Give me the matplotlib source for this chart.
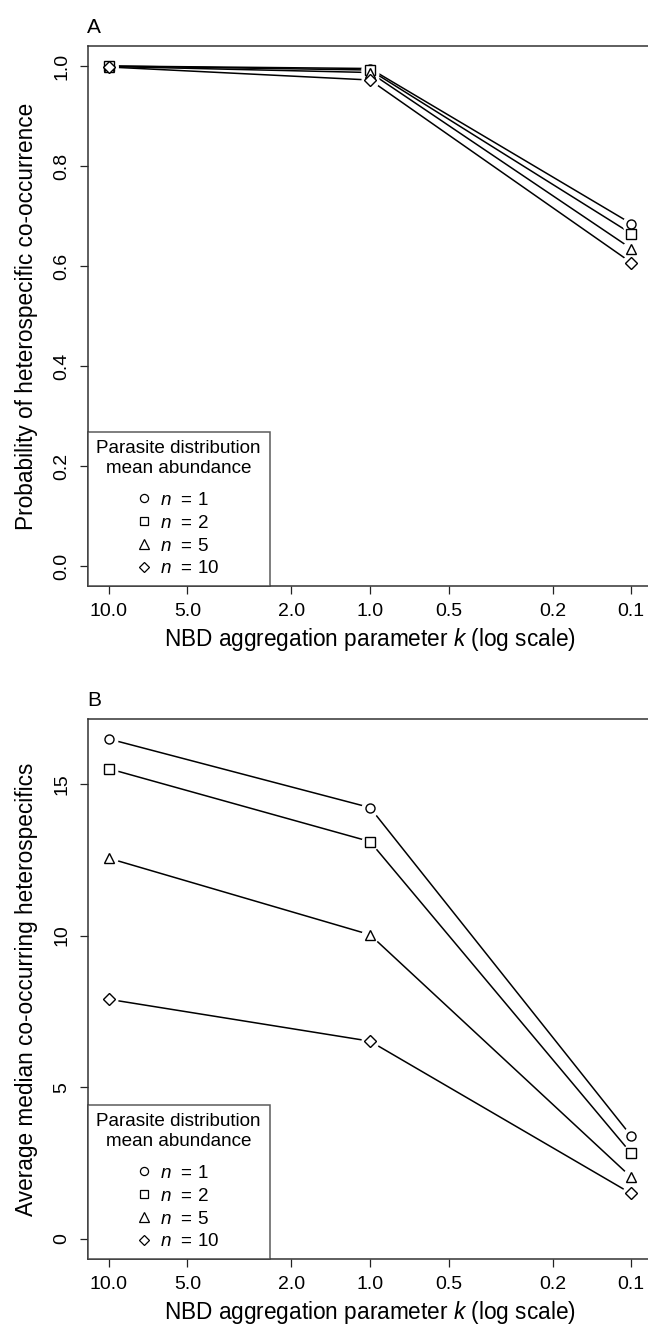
import matplotlib
matplotlib.use("Agg")
import matplotlib.pyplot as plt
from matplotlib.ticker import FixedLocator, FixedFormatter, NullLocator

plt.rcParams['font.family'] = ['Liberation Sans', 'DejaVu Sans']
plt.rcParams['mathtext.fontset'] = 'custom'
plt.rcParams['mathtext.it'] = 'Liberation Sans:italic'
plt.rcParams['mathtext.rm'] = 'Liberation Sans'

# ---- data ----
k_values = [10.0, 1.0, 0.1]
n_labels = ["1", "2", "5", "10"]
markers = ["o", "s", "^", "D"]

probA_n1 = [1.000, 0.995, 0.685]
probA_n2 = [1.000, 0.992, 0.665]
probA_n5 = [0.999, 0.987, 0.635]
probA_n10 = [0.998, 0.972, 0.607]

medB_n1 = [16.48, 14.22, 3.40]
medB_n2 = [15.50, 13.10, 2.83]
medB_n5 = [12.55, 10.03, 2.04]
medB_n10 = [7.90, 6.52, 1.50]

xtick_vals = [10.0, 5.0, 2.0, 1.0, 0.5, 0.2, 0.1]
xtick_labels = ["10.0", "5.0", "2.0", "1.0", "0.5", "0.2", "0.1"]
yticksA = [0.0, 0.2, 0.4, 0.6, 0.8, 1.0]
yticksB = [0, 5, 10, 15]

W, H = 648, 1328
fig = plt.figure(figsize=(W / 100, H / 100), dpi=100)

def px_axes(left, top, right, bottom):
    return fig.add_axes([left / W, 1 - bottom / H, (right - left) / W, (bottom - top) / H])

axA = px_axes(88, 46, 652, 586)
axB = px_axes(88, 719, 652, 1259)

FS_TICK = 14.0
FS_LAB = 16.3
FS_LEG = 13.6
msize = {"o": 6.5, "s": 6.5, "^": 7.5, "D": 6.0}

def draw(ax, series, ylim, yticks, yfmt, ylabel):
    for ys in series:
        ax.plot(k_values, ys, color="black", lw=1.1, zorder=2)
    for ys, m in zip(series, markers):
        ax.plot(k_values, ys, ls="none", marker="o", ms=12, mfc="white", mec="white", zorder=3)
    for ys, m in zip(series, markers):
        ax.plot(k_values, ys, ls="none", marker=m, ms=msize[m], mfc="white", mec="black",
                mew=1.0, zorder=4)
    ax.set_xscale("log")
    ax.set_xlim(10 ** 1.08, 10 ** -1.08)
    ax.xaxis.set_major_locator(FixedLocator(xtick_vals))
    ax.xaxis.set_major_formatter(FixedFormatter(xtick_labels))
    ax.xaxis.set_minor_locator(NullLocator())
    ax.set_ylim(*ylim)
    ax.set_yticks(yticks)
    ax.set_yticklabels([yfmt.format(v) for v in yticks], rotation=90, va="center")
    ax.tick_params(axis="both", direction="out", length=5.5, width=0.9, labelsize=FS_TICK,
                   color="#222222")
    ax.tick_params(axis="x", pad=7)
    ax.tick_params(axis="y", pad=7)
    for s in ["left", "bottom", "top"]:
        ax.spines[s].set_linewidth(1.1)
        ax.spines[s].set_color("#333333")
    ax.spines["right"].set_visible(False)
    ax.set_xlabel("NBD aggregation parameter $k$ (log scale)", fontsize=FS_LAB, labelpad=4)
    ax.set_ylabel(ylabel, fontsize=FS_LAB, labelpad=11)
    handles = [plt.Line2D([], [], ls="none", marker=m, ms=msize[m] * 0.9, mfc="white",
                          mec="black", mew=0.9)
               for m in markers]
    leg = ax.legend(handles, [f"$n$  = {n}" for n in n_labels], loc="lower left",
                    title="Parasite distribution\nmean abundance", title_fontsize=FS_LEG,
                    fontsize=FS_LEG, frameon=True, fancybox=False, borderaxespad=0,
                    alignment="center", handlelength=0.7, handletextpad=0.5,
                    labelspacing=0.3, borderpad=0.45)
    leg.get_title().set_multialignment("center")
    try:
        leg._legend_box.sep = 10.5
    except Exception:
        pass
    leg.get_frame().set_edgecolor("#333333")
    leg.get_frame().set_linewidth(1.1)
    leg.set_zorder(5)

ylimA = (-0.04, 1.04)
draw(axA, [probA_n1, probA_n2, probA_n5, probA_n10], ylimA, yticksA, "{:.1f}",
     "Probability of heterospecific co-occurrence")
rB = 16.48
draw(axB, [medB_n1, medB_n2, medB_n5, medB_n10], (-0.04 * rB, 1.04 * rB), yticksB, "{:d}",
     "Average median co-occurring heterospecifics")

fig.text(87 / W, 1 - 33 / H, "A", fontsize=15, va="baseline", ha="left")
fig.text(87 / W, 1 - 706 / H, "B", fontsize=15, va="baseline", ha="left")

fig.savefig("out.png", dpi=100)
